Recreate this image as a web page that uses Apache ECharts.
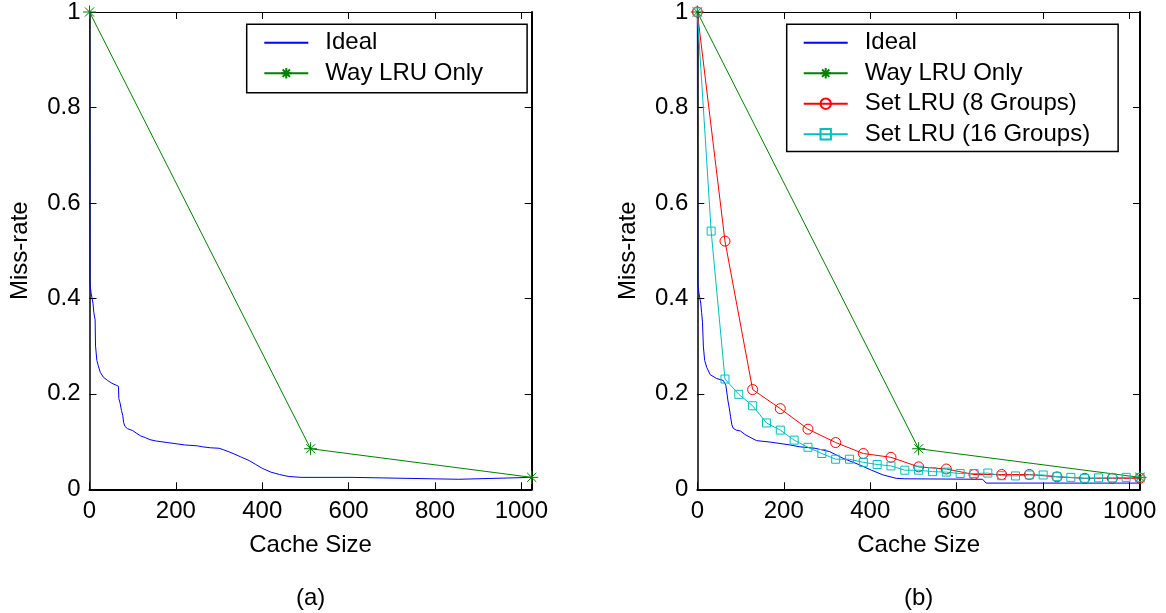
<!DOCTYPE html>
<html><head><meta charset="utf-8">
<script src="https://cdn.jsdelivr.net/npm/echarts@6/dist/echarts.min.js"></script>
<style>html,body{margin:0;padding:0;background:#fff}#c{width:1166px;height:613px}</style>
</head><body><div id="c"></div>
<script>
const xTickLabels = ['0','200','400','600','800','1000'];
const yTickLabels = ['0','0.2','0.4','0.6','0.8','1'];
const panelTitles = ['(a)', '(b)'];
const seriesNames = ['Ideal', 'Way LRU Only', 'Set LRU (8 Groups)', 'Set LRU (16 Groups)'];

const idealA = [[0,1],[1,0.43],[3,0.43],[4,0.41],[7,0.41],[8,0.39],[10,0.37],[13,0.355],[14,0.30],[15,0.29],[17,0.27],[20,0.26],[25,0.245],[32,0.235],[42,0.228],[52,0.222],[62,0.218],[67,0.216],[68,0.19],[71,0.18],[74,0.165],[77,0.155],[79,0.14],[82,0.132],[88,0.127],[100,0.123],[108,0.118],[118,0.112],[130,0.108],[140,0.104],[155,0.101],[180,0.098],[220,0.093],[250,0.091],[262,0.089],[280,0.087],[300,0.086],[310,0.083],[330,0.076],[350,0.068],[370,0.06],[385,0.052],[400,0.044],[420,0.036],[440,0.031],[460,0.027],[490,0.025],[608,0.025],[610,0.021],[855,0.021],[858,0.025],[1024,0.025]];
const idealB = [[0,1],[1,0.43],[3,0.43],[4,0.41],[7,0.41],[8,0.39],[10,0.37],[12,0.35],[14,0.30],[17,0.27],[22,0.255],[30,0.24],[45,0.232],[60,0.228],[66,0.218],[69,0.215],[71,0.185],[74,0.17],[77,0.152],[80,0.135],[83,0.128],[90,0.124],[100,0.122],[110,0.115],[120,0.11],[137,0.102],[168,0.099],[214,0.093],[237,0.089],[272,0.086],[306,0.079],[337,0.065],[376,0.051],[403,0.04],[430,0.03],[460,0.023],[480,0.022],[660,0.021],[668,0.013],[1024,0.013]];
const wayLRU = [[0,1],[512,0.085],[1024,0.025]];
const sizes8 = [0,64,128,192,256,320,384,448,512,576,640,704,768,832,896,960,1024];
const setLRU8 = [1,0.52,0.209,0.169,0.126,0.098,0.075,0.067,0.047,0.0425,0.031,0.031,0.031,0.026,0.023,0.023,0.023];
const sizes16 = [0,32,64,96,128,160,192,224,256,288,320,352,384,416,448,480,512,544,576,608,640,672,704,736,768,800,832,864,896,928,960,992,1024];
const setLRU16 = [1,0.541,0.231,0.199,0.175,0.139,0.124,0.103,0.088,0.075,0.063,0.063,0.0565,0.052,0.049,0.040,0.040,0.037,0.036,0.033,0.033,0.034,0.0285,0.028,0.030,0.030,0.0265,0.025,0.023,0.024,0.024,0.025,0.025];

const FONT = "'Liberation Sans', Arial, sans-serif";
const BLACK = '#000';
const COLORS = {ideal:'#0000ff', way:'#008000', set8:'#ff0000', set16:'#00bfbf'};
const STAR = 'path://M5,0L5,10M0,5L10,5M1.5,1.5L8.5,8.5M1.5,8.5L8.5,1.5';

const grids = [
  {left: 89.5, top: 11.7, width: 442.2, height: 477.6},
  {left: 697.3, top: 11.7, width: 442.7, height: 477.6}
];

function xAxes(g) {
  const common = {type:'value', gridIndex:g, min:0, max:1024, interval:200, splitLine:{show:false}};
  return [
    Object.assign({}, common, {position:'bottom',
      axisLine:{onZero:false, lineStyle:{color:BLACK, width:2}},
      axisTick:{inside:true, length:7, lineStyle:{color:BLACK, width:1}},
      axisLabel:{color:BLACK, fontFamily:FONT, fontSize:24, margin:10,
        formatter: v => xTickLabels.includes(String(v)) ? String(v) : ''},
      name:'Cache Size', nameLocation:'middle', nameGap:44,
      nameTextStyle:{color:BLACK, fontFamily:FONT, fontSize:24}}),
    Object.assign({}, common, {position:'top',
      axisLine:{onZero:false, lineStyle:{color:BLACK, width:1.2}},
      axisTick:{inside:true, length:7, lineStyle:{color:BLACK, width:1}},
      axisLabel:{show:false}})
  ];
}
function yAxes(g) {
  const common = {type:'value', gridIndex:g, min:0, max:1, interval:0.2, splitLine:{show:false}};
  return [
    Object.assign({}, common, {position:'left',
      axisLine:{onZero:false, lineStyle:{color:BLACK, width:1.5}},
      axisTick:{inside:true, length:7, lineStyle:{color:BLACK, width:1}},
      axisLabel:{color:BLACK, fontFamily:FONT, fontSize:24, margin:9,
        formatter: v => { const s = String(+v.toFixed(2)); return yTickLabels.includes(s) ? s : ''; }},
      name:'Miss-rate', nameLocation:'middle', nameGap:57,
      nameTextStyle:{color:BLACK, fontFamily:FONT, fontSize:24}}),
    Object.assign({}, common, {position:'right',
      axisLine:{onZero:false, lineStyle:{color:BLACK, width:2}},
      axisTick:{inside:true, length:7, lineStyle:{color:BLACK, width:1}},
      axisLabel:{show:false}})
  ];
}

function lineSeries(name, data, g, color, extra) {
  return Object.assign({
    name, type:'line', data, xAxisIndex:g*2, yAxisIndex:g*2,
    symbol:'none', showSymbol:true, clip:false,
    lineStyle:{color, width:1}, itemStyle:{color},
    emphasis:{disabled:true}, z: 2
  }, extra || {});
}
const markerStyle = c => ({color:'rgba(0,0,0,0)', borderColor:c, borderWidth:1});

const series = [];
[idealA, idealB].forEach((ideal, g) => {
  series.push(lineSeries(seriesNames[0], ideal, g, COLORS.ideal));
  series.push(lineSeries(seriesNames[1], wayLRU, g, COLORS.way,
    {symbol:STAR, symbolSize:13, itemStyle:markerStyle(COLORS.way)}));
});
series.push(lineSeries(seriesNames[2], sizes8.map((s,i)=>[s, setLRU8[i]]), 1, COLORS.set8,
  {symbol:'circle', symbolSize:10, itemStyle:markerStyle(COLORS.set8)}));
series.push(lineSeries(seriesNames[3], sizes16.map((s,i)=>[s, setLRU16[i]]), 1, COLORS.set16,
  {symbol:'rect', symbolSize:8, itemStyle:markerStyle(COLORS.set16)}));

const legendCommon = {
  orient:'vertical', selectedMode:false, itemWidth:44, itemHeight:13, itemGap:6.5,
  borderColor:BLACK, borderWidth:1.5, backgroundColor:'#fff',
  textStyle:{color:BLACK, fontFamily:FONT, fontSize:24, lineHeight:24, padding:[0,0,0,12]}
};
const legendItems = names => names.map(n => n === seriesNames[0]
  ? {name:n, itemStyle:{color:'rgba(0,0,0,0)', borderWidth:0, opacity:0}}
  : {name:n});

const option = {
  animation:false,
  backgroundColor:'#fff',
  grid: grids,
  xAxis: [...xAxes(0), ...xAxes(1)],
  yAxis: [...yAxes(0), ...yAxes(1)],
  legend: [
    Object.assign({}, legendCommon, {left:246.7, top:24.3, padding:[6.4, 44, 7.5, 16.6],
      data: legendItems(seriesNames.slice(0,2))}),
    Object.assign({}, legendCommon, {left:786.7, top:24.3, padding:[6.4, 28, 5.4, 16],
      data: legendItems(seriesNames)})
  ],
  graphic: panelTitles.map((t, g) => ({
    type:'text', x: grids[g].left + grids[g].width/2, y: 598,
    style:{text:t, fill:BLACK, font:"24px 'Liberation Sans', Arial, sans-serif", textAlign:'center', textVerticalAlign:'middle'}
  })),
  series
};
const chart = echarts.init(document.getElementById('c'), null, {renderer:'canvas'});
chart.setOption(option);
</script></body></html>
